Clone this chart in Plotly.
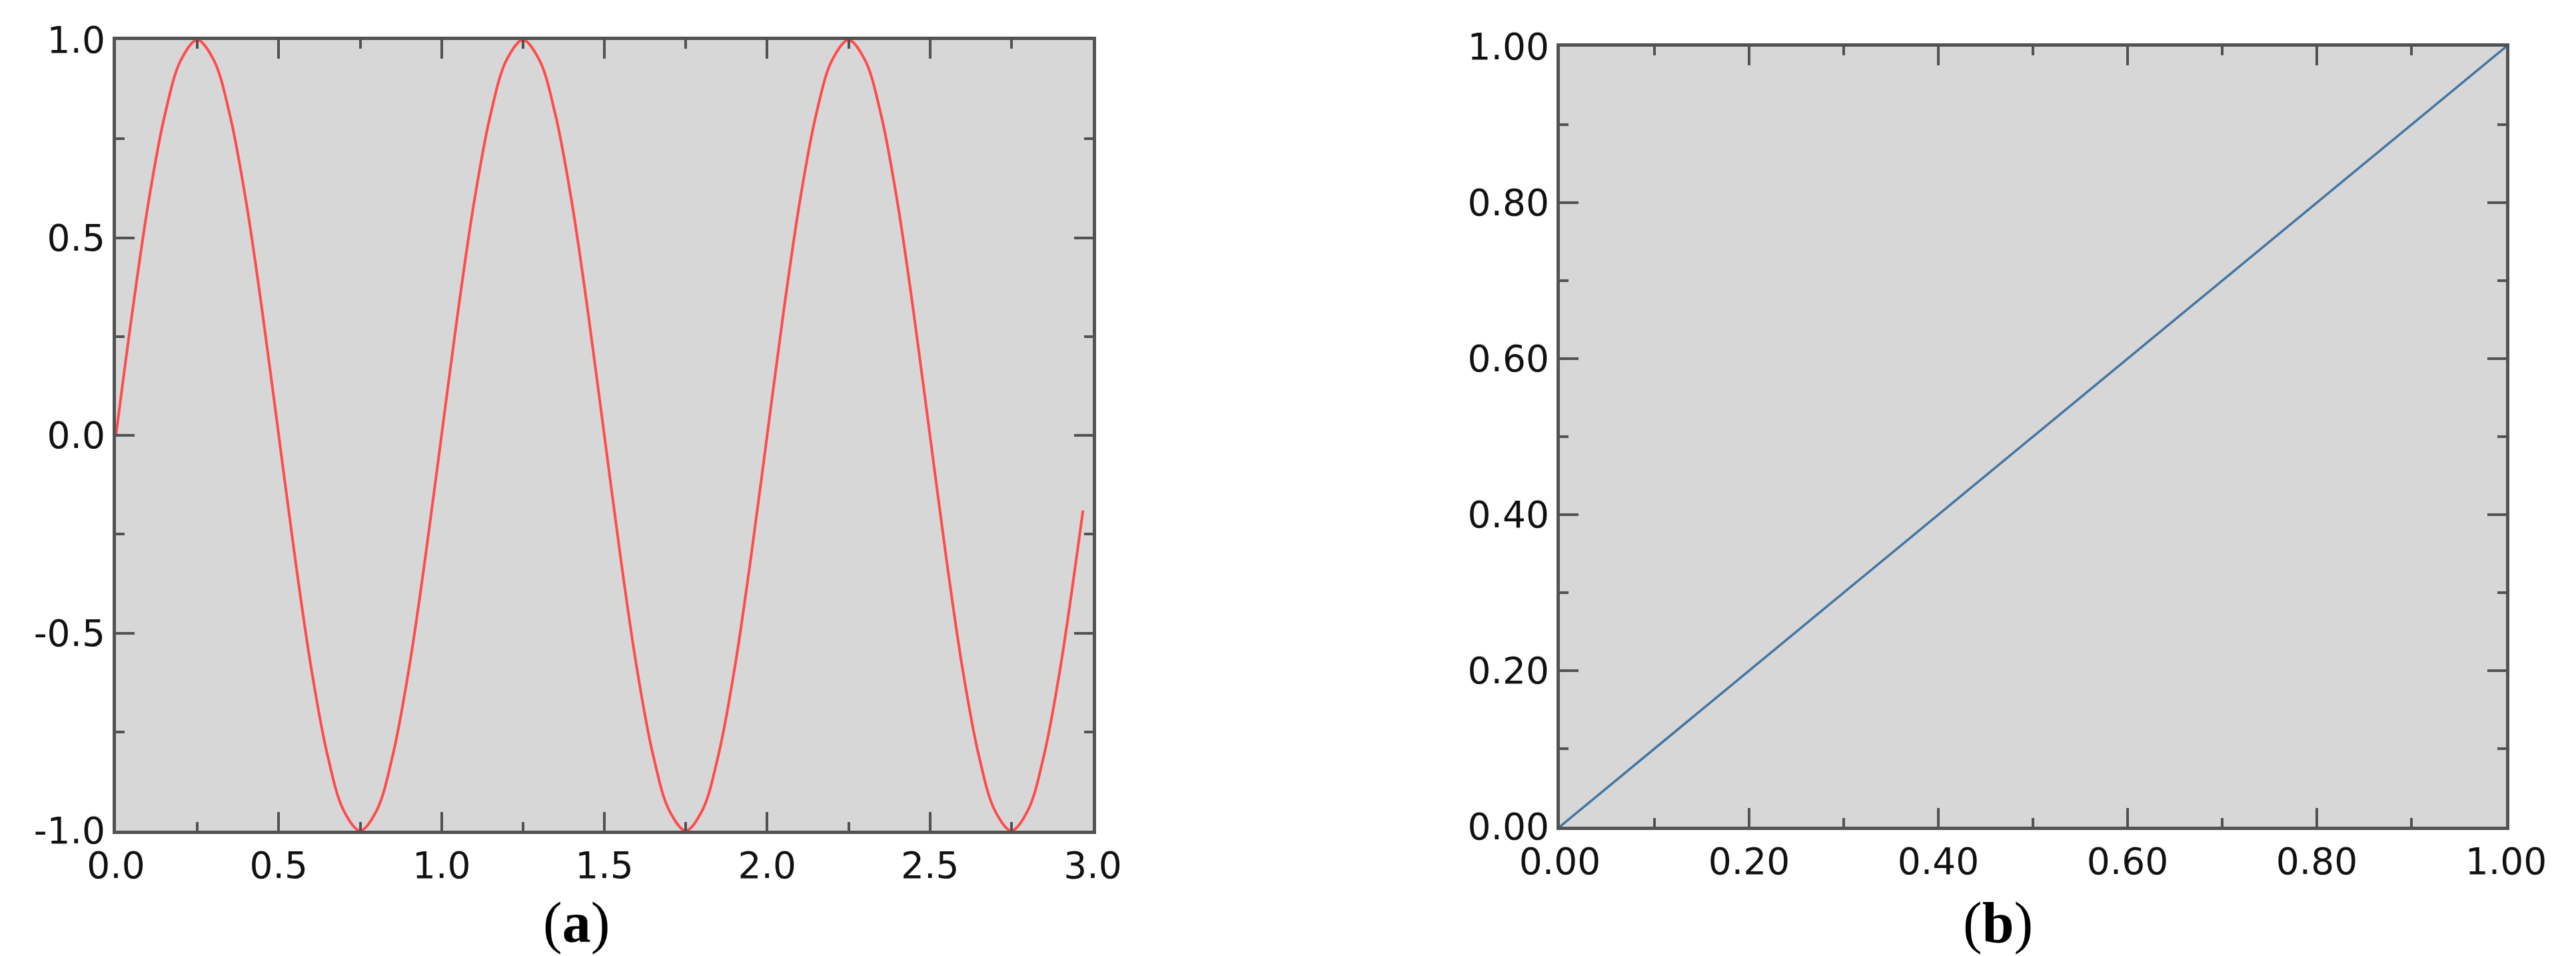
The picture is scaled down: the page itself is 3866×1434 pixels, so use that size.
import plotly.graph_objects as go

# panel (a): sine curve
sine_x = [0.00, 0.05, 0.10, 0.15, 0.20, 0.25, 0.30, 0.35, 0.40, 0.45,
          0.50, 0.55, 0.60, 0.65, 0.70, 0.75, 0.80, 0.85, 0.90, 0.95,
          1.00, 1.05, 1.10, 1.15, 1.20, 1.25, 1.30, 1.35, 1.40, 1.45,
          1.50, 1.55, 1.60, 1.65, 1.70, 1.75, 1.80, 1.85, 1.90, 1.95,
          2.00, 2.05, 2.10, 2.15, 2.20, 2.25, 2.30, 2.35, 2.40, 2.45,
          2.50, 2.55, 2.60, 2.65, 2.70, 2.75, 2.80, 2.85, 2.90, 2.95, 2.97]
sine_y = [0.00, 0.31, 0.59, 0.81, 0.95, 1.00, 0.95, 0.81, 0.59, 0.31,
          0.00, -0.31, -0.59, -0.81, -0.95, -1.00, -0.95, -0.81, -0.59, -0.31,
          0.00, 0.31, 0.59, 0.81, 0.95, 1.00, 0.95, 0.81, 0.59, 0.31,
          0.00, -0.31, -0.59, -0.81, -0.95, -1.00, -0.95, -0.81, -0.59, -0.31,
          0.00, 0.31, 0.59, 0.81, 0.95, 1.00, 0.95, 0.81, 0.59, 0.31,
          0.00, -0.31, -0.59, -0.81, -0.95, -1.00, -0.95, -0.81, -0.59, -0.31, -0.19]

# panel (b): straight line
diag_x = [0.0, 1.0]
diag_y = [0.0, 1.0]

a_xticks = [0.0, 0.5, 1.0, 1.5, 2.0, 2.5, 3.0]
a_xlabels = ['0.0', '0.5', '1.0', '1.5', '2.0', '2.5', '3.0']
a_yticks = [-1.0, -0.5, 0.0, 0.5, 1.0]
a_ylabels = ['-1.0', '-0.5', '0.0', '0.5', '1.0']
b_ticks = [0.0, 0.2, 0.4, 0.6, 0.8, 1.0]
b_labels = ['0.00', '0.20', '0.40', '0.60', '0.80', '1.00']

W, H = 3866, 1434
AX = '#525252'

f = go.Figure()
f.add_trace(go.Scatter(x=sine_x, y=sine_y, mode='lines', xaxis='x', yaxis='y',
                       line=dict(color='#ff4b4b', width=4, shape='spline'),
                       showlegend=False))
f.add_trace(go.Scatter(x=diag_x, y=diag_y, mode='lines', xaxis='x2', yaxis='y2',
                       line=dict(color='#4275a0', width=3.5),
                       showlegend=False))


def ax(dom, rng, vals, text, minor_step, anchor):
    return dict(domain=dom, range=rng, anchor=anchor,
                tickvals=vals, ticktext=text,
                showline=True, linecolor=AX, linewidth=5, mirror='allticks',
                ticks='inside', ticklen=28, tickwidth=4, tickcolor=AX,
                minor=dict(dtick=minor_step, ticks='inside', ticklen=13,
                           tickwidth=4, tickcolor=AX),
                showgrid=False, zeroline=False, automargin=False,
                tickfont=dict(family='DejaVu Sans', size=55, color='#111111'))


f.update_layout(
    width=W, height=H,
    margin=dict(l=0, r=0, t=0, b=0),
    paper_bgcolor='white',
    plot_bgcolor='#d7d7d7',
    xaxis=ax([166 / W, 1632 / W], [0, 3], a_xticks, a_xlabels, 0.25, 'y'),
    yaxis=ax([1 - 1238 / H, 1 - 52 / H], [-1, 1], a_yticks, a_ylabels, 0.25, 'x'),
    xaxis2=ax([2333 / W, 3753 / W], [0, 1], b_ticks, b_labels, 0.1, 'y2'),
    yaxis2=ax([1 - 1232 / H, 1 - 62 / H], [0, 1], b_ticks, b_labels, 0.1, 'x2'),
)

for lab, xp in [('a', 857), ('b', 2990)]:
    f.add_annotation(text='(<b>%s</b>)' % lab, x=xp / W, y=1 - 1376 / H,
                     xref='paper', yref='paper', showarrow=False,
                     xanchor='center', yanchor='middle',
                     font=dict(family='Liberation Serif', size=86, color='black'))

f.write_html('out.html')
